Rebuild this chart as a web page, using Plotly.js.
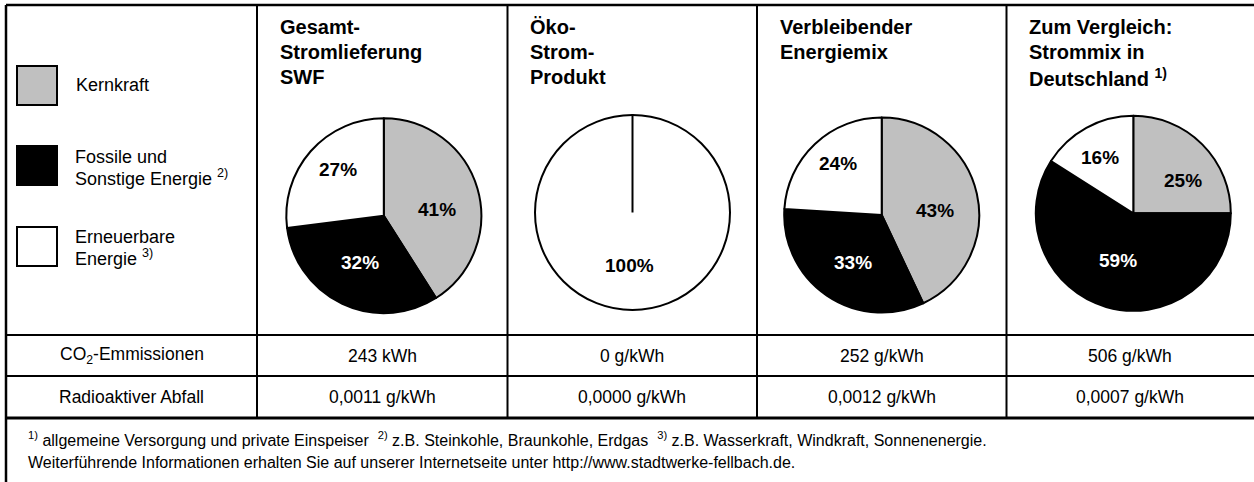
<!DOCTYPE html>
<html>
<head>
<meta charset="utf-8">
<script src="https://cdn.plot.ly/plotly-3.0.1.min.js"></script>
<style>html,body{margin:0;padding:0;background:#fff;}#chart{width:1254px;height:482px;}</style>
</head>
<body>
<div id="chart"></div>
<script>
// ---------- data ----------
const categories = ['Kernkraft', 'Fossile und Sonstige Energie', 'Erneuerbare Energie'];
const columnTitles = [
  ['Gesamt-', 'Stromlieferung', 'SWF'],
  ['Öko-', 'Strom-', 'Produkt'],
  ['Verbleibender', 'Energiemix'],
  ['Zum Vergleich:', 'Strommix in', 'Deutschland <sup>1)</sup>']
];
const kernkraft   = [41, 0, 43, 25];
const fossil      = [32, 0, 33, 59];
const erneuerbar  = [27, 100, 24, 16];
const rowLabels   = ['CO<sub>2</sub>-Emmissionen', 'Radioaktiver Abfall'];
const co2Values   = ['243 kWh', '0 g/kWh', '252 g/kWh', '506 g/kWh'];
const abfallValues = ['0,0011 g/kWh', '0,0000 g/kWh', '0,0012 g/kWh', '0,0007 g/kWh'];
const legendLabels = [['Kernkraft'], ['Fossile und', 'Sonstige Energie <sup>2)</sup>'], ['Erneuerbare', 'Energie <sup>3)</sup>']];
const footnote1 = '<sup>1)</sup> allgemeine Versorgung und private Einspeiser  <sup>2)</sup> z.B. Steinkohle, Braunkohle, Erdgas  <sup>3)</sup> z.B. Wasserkraft, Windkraft, Sonnenenergie.';
const footnote2 = 'Weiterführende Informationen erhalten Sie auf unserer Internetseite unter http://www.stadtwerke-fellbach.de.';

// ---------- layout constants ----------
const W = 1254, H = 482;
const FONT = 'Liberation Sans, Arial, Helvetica, sans-serif';
const colors = ['#c0c0c0', '#000000', '#ffffff'];
const pieCenters = [[383.8, 215.7], [632.5, 212.5], [881.7, 215], [1133.3, 213.3]];
const pieR = 97.5;
const labelOffsets = [
  [[53, -6], [-24, 47], [-46, -46]],
  [[0, 0], [0, 0], [-3, 53]],
  [[53, -5], [-29, 47], [-44, -52]],
  [[50, -33], [-15, 47], [-33, -56]]
];
const titleX = [278, 528, 778, 1027];
const colEdges = [6, 257, 507.5, 757, 1006.5, 1254];
const rowLines = [335, 376, 418];

const px = x => x / W;
const py = y => 1 - y / H;

const traces = [];
const annotations = [];
const shapes = [];

for (let i = 0; i < 4; i++) {
  const [cx, cy] = pieCenters[i];
  const vals = [kernkraft[i], fossil[i], erneuerbar[i]];
  traces.push({
    type: 'pie',
    values: vals,
    labels: categories,
    marker: {colors: colors, line: {color: '#000', width: 2}},
    sort: false,
    direction: 'clockwise',
    rotation: 0,
    textinfo: 'none',
    hoverinfo: 'label+percent',
    showlegend: false,
    domain: {x: [px(cx - pieR), px(cx + pieR)], y: [py(cy + pieR), py(cy - pieR)]}
  });
  // percent labels
  vals.forEach((v, k) => {
    if (v <= 0) return;
    const [dx, dy] = labelOffsets[i][k];
    annotations.push({
      xref: 'paper', yref: 'paper', x: px(cx + dx), y: py(cy + dy),
      xanchor: 'center', yanchor: 'middle', showarrow: false,
      text: '<b>' + v + '%</b>',
      font: {family: FONT, size: 19, color: k === 1 ? '#fff' : '#000'}
    });
  });
  // single full slice: radial line from centre to top
  const total = vals.reduce((a, b) => a + b, 0);
  vals.forEach(v => {
    if (v === total) {
      shapes.push({type: 'line', xref: 'paper', yref: 'paper',
        x0: px(cx), y0: py(cy), x1: px(cx), y1: py(cy - pieR),
        line: {color: '#000', width: 2}});
    }
  });
  // column titles
  columnTitles[i].forEach((t, j) => {
    annotations.push({
      xref: 'paper', yref: 'paper', x: px(titleX[i]), y: py(27 + 25 * j),
      xanchor: 'left', yanchor: 'middle', showarrow: false,
      text: '<b>' + t + '</b>',
      font: {family: FONT, size: 20, color: '#000'}
    });
  });
  // table values
  [co2Values[i], abfallValues[i]].forEach((t, r) => {
    annotations.push({
      xref: 'paper', yref: 'paper', x: px((colEdges[i + 1] + colEdges[i + 2]) / 2),
      y: py((rowLines[r] + rowLines[r + 1]) / 2),
      xanchor: 'center', yanchor: 'middle', showarrow: false,
      text: t, font: {family: FONT, size: 17.5, color: '#000'}
    });
  });
}

// row labels
rowLabels.forEach((t, r) => {
  annotations.push({
    xref: 'paper', yref: 'paper', x: px((colEdges[0] + colEdges[1]) / 2),
    y: py((rowLines[r] + rowLines[r + 1]) / 2),
    xanchor: 'center', yanchor: 'middle', showarrow: false,
    text: t, font: {family: FONT, size: 17.5, color: '#000'}
  });
});

// legend keys
const keyTops = [66, 146, 227];
const legendTextY = [[85], [157, 177], [237, 257]];
keyTops.forEach((top, k) => {
  shapes.push({type: 'rect', xref: 'paper', yref: 'paper',
    x0: px(17), x1: px(57), y0: py(top), y1: py(top + 39),
    fillcolor: colors[k], line: {color: '#000', width: 2}});
  legendLabels[k].forEach((t, j) => {
    annotations.push({
      xref: 'paper', yref: 'paper', x: px(k === 0 ? 74 : 73), y: py(legendTextY[k][j]),
      xanchor: 'left', yanchor: 'middle', showarrow: false,
      text: t, font: {family: FONT, size: 18, color: '#000'}
    });
  });
});

// footnotes
annotations.push({xref: 'paper', yref: 'paper', x: px(26), y: py(439), xanchor: 'left', yanchor: 'middle',
  showarrow: false, text: footnote1, font: {family: FONT, size: 16, color: '#000'}});
annotations.push({xref: 'paper', yref: 'paper', x: px(26), y: py(462), xanchor: 'left', yanchor: 'middle',
  showarrow: false, text: footnote2, font: {family: FONT, size: 16, color: '#000'}});

// table / frame lines
const L = (x0, y0, x1, y1, w) => shapes.push({type: 'line', xref: 'paper', yref: 'paper',
  x0: px(x0), y0: py(y0), x1: px(x1), y1: py(y1), line: {color: '#000', width: w}});
L(6, 5, W + 2, 5, 2.5);
L(6, 5, 6, H + 2, 2.5);
for (let c = 1; c <= 4; c++) L(colEdges[c], 5, colEdges[c], rowLines[2], 2);
L(6, rowLines[0], W + 2, rowLines[0], 2);
L(6, rowLines[1], W + 2, rowLines[1], 2);
L(6, rowLines[2], W + 2, rowLines[2], 3);

const layout = {
  width: W, height: H,
  margin: {l: 0, r: 0, t: 0, b: 0, pad: 0},
  paper_bgcolor: '#fff', plot_bgcolor: '#fff',
  showlegend: false,
  shapes: shapes,
  annotations: annotations
};

Plotly.newPlot('chart', traces, layout, {displayModeBar: false});
</script>
</body>
</html>
